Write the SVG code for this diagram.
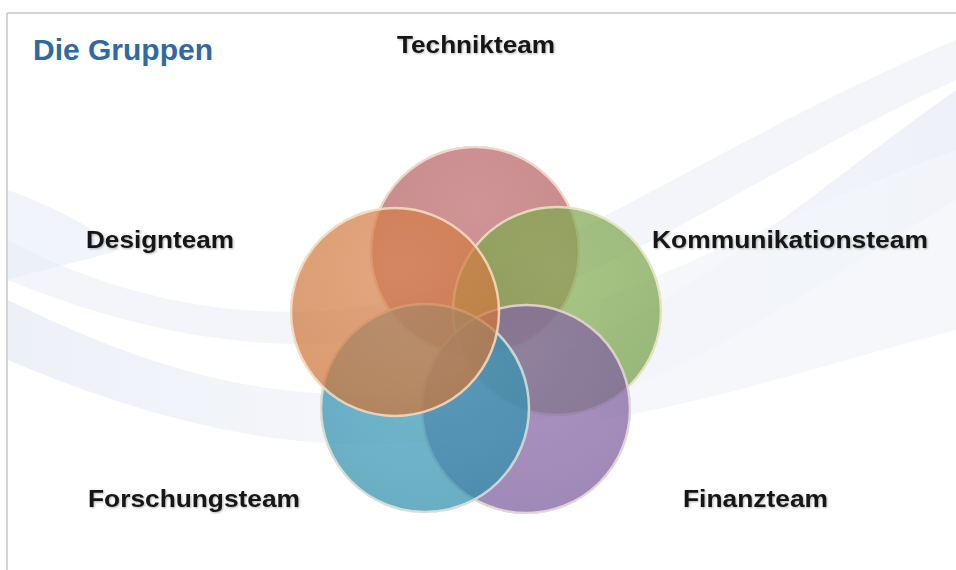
<svg xmlns="http://www.w3.org/2000/svg" width="956" height="570" viewBox="0 0 956 570">
<defs>
<style>
.lbl{font-family:"Liberation Sans",Arial,sans-serif;font-weight:bold;font-size:24px;fill:#141414}
.title{font-family:"Liberation Sans",Arial,sans-serif;font-weight:bold;font-size:29px;fill:#3069a3}
.rim{fill:none;stroke:#fff3df;stroke-width:2.5;stroke-opacity:0.7}
.disc{opacity:0.72}
</style>
<linearGradient id="swoosh" x1="0" y1="0" x2="1" y2="0">
<stop offset="0" stop-color="#dde3f1" stop-opacity="0.9"/>
<stop offset="0.5" stop-color="#e9edf6" stop-opacity="0.6"/>
<stop offset="1" stop-color="#dfe4f2" stop-opacity="0.9"/>
</linearGradient>
<radialGradient id="gRed" cx="0.5" cy="0.3" r="0.7"><stop offset="0" stop-color="#bd6a6e"/><stop offset="1" stop-color="#b05a5e"/></radialGradient>
<radialGradient id="gGreen" cx="0.5" cy="0.3" r="0.7"><stop offset="0" stop-color="#86ae55"/><stop offset="1" stop-color="#73a046"/></radialGradient>
<radialGradient id="gBlue" cx="0.5" cy="0.3" r="0.7"><stop offset="0" stop-color="#409fba"/><stop offset="1" stop-color="#2f8eab"/></radialGradient>
<radialGradient id="gPurple" cx="0.5" cy="0.3" r="0.7"><stop offset="0" stop-color="#8a6aaa"/><stop offset="1" stop-color="#7a5b9c"/></radialGradient>
<radialGradient id="gOrange" cx="0.5" cy="0.3" r="0.7"><stop offset="0" stop-color="#d88450"/><stop offset="1" stop-color="#cc7436"/></radialGradient>
<filter id="sh" x="-5%" y="-20%" width="110%" height="140%"><feGaussianBlur in="SourceAlpha" stdDeviation="1"/><feOffset dx="1" dy="1"/><feComponentTransfer><feFuncA type="linear" slope="0.3"/></feComponentTransfer><feMerge><feMergeNode/><feMergeNode in="SourceGraphic"/></feMerge></filter>
</defs>
<rect width="956" height="570" fill="#ffffff"/>
<g id="background">
<path d="M8,300 C150,370 300,420 480,380 C650,340 800,200 956,90 L956,200 C820,280 680,390 500,430 C320,470 150,420 8,360 Z" fill="url(#swoosh)" opacity="0.6"/>
<path d="M8,240 C120,300 260,330 400,300 C560,260 720,140 956,40 L956,80 C760,170 600,290 430,330 C280,365 130,330 8,280 Z" fill="#eef1f8" opacity="0.7"/>
<path d="M8,190 C50,205 90,225 120,250 C80,262 40,270 8,280 Z" fill="#e8ecf6" opacity="0.6"/>
<path d="M600,300 C700,260 820,200 956,150 L956,330 C840,360 720,400 600,420 Z" fill="#f3f5fa" opacity="0.8"/>
<line x1="7" y1="13" x2="956" y2="13" stroke="#d4d4d4" stroke-width="2"/>
<line x1="7" y1="13" x2="7" y2="570" stroke="#d4d4d4" stroke-width="2"/>
</g>
<text id="title" class="title" x="33" y="60" textLength="180" lengthAdjust="spacingAndGlyphs">Die Gruppen</text>
<g id="node-technik">
<circle class="disc" cx="475" cy="251" r="105" fill="url(#gRed)"/>
<circle class="rim" cx="475" cy="251" r="104"/>
<text class="lbl" x="397" y="53" textLength="158" lengthAdjust="spacingAndGlyphs" filter="url(#sh)">Technikteam</text>
</g>
<g id="node-kommunikation">
<circle class="disc" cx="557" cy="311" r="105" fill="url(#gGreen)"/>
<circle class="rim" cx="557" cy="311" r="104"/>
<text class="lbl" x="652" y="248" textLength="276" lengthAdjust="spacingAndGlyphs" filter="url(#sh)">Kommunikationsteam</text>
</g>
<g id="node-finanz">
<circle class="disc" cx="526" cy="409" r="105" fill="url(#gPurple)"/>
<circle class="rim" cx="526" cy="409" r="104"/>
<text class="lbl" x="683" y="507" textLength="145" lengthAdjust="spacingAndGlyphs" filter="url(#sh)">Finanzteam</text>
</g>
<g id="node-forschung">
<circle class="disc" cx="425" cy="408" r="105" fill="url(#gBlue)"/>
<circle class="rim" cx="425" cy="408" r="104"/>
<text class="lbl" x="88" y="507" textLength="212" lengthAdjust="spacingAndGlyphs" filter="url(#sh)">Forschungsteam</text>
</g>
<g id="node-design">
<circle class="disc" cx="395" cy="312" r="105" fill="url(#gOrange)"/>
<circle class="rim" cx="395" cy="312" r="104"/>
<text class="lbl" x="86" y="248" textLength="148" lengthAdjust="spacingAndGlyphs" filter="url(#sh)">Designteam</text>
</g>
<g id="connectors"></g>
</svg>
